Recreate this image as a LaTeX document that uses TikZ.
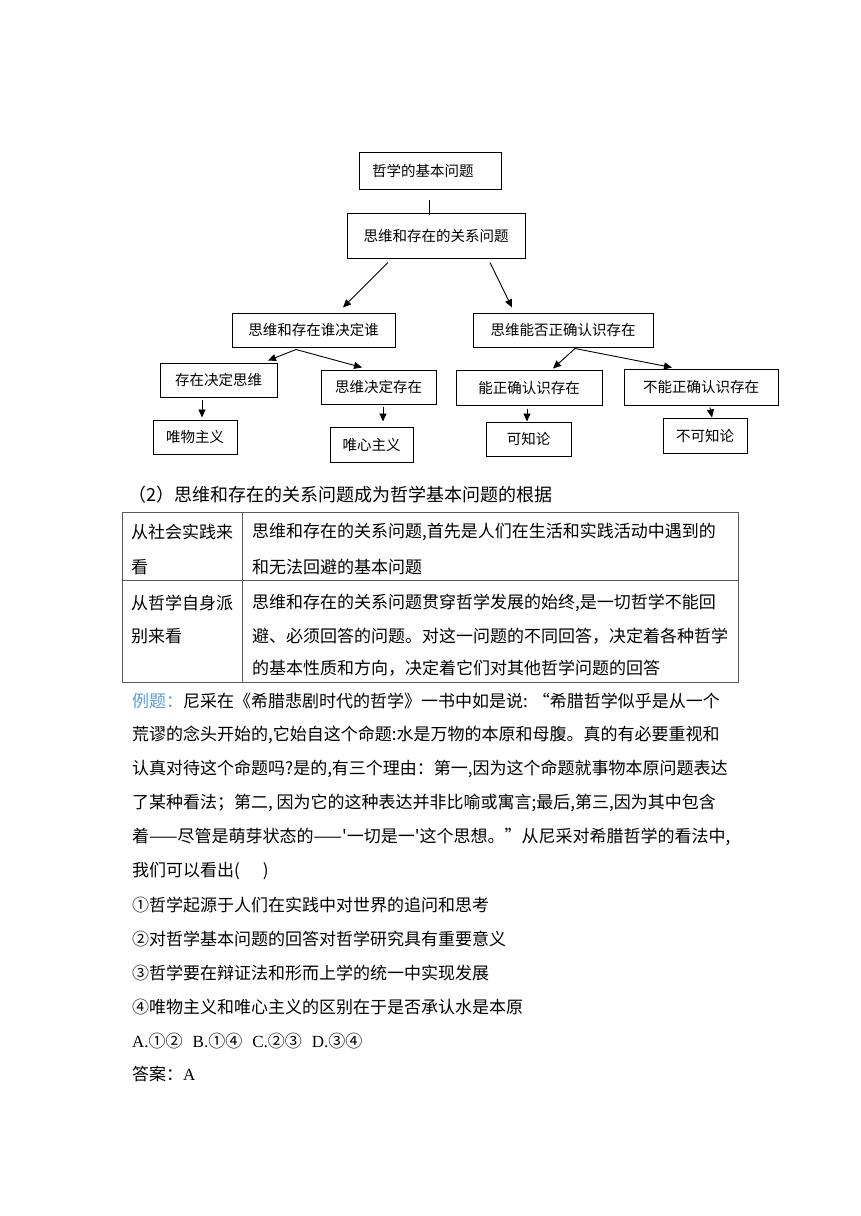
\documentclass[tikz,border=0pt]{standalone}
\usepackage{fontspec}
\usepackage{tikz}
\usetikzlibrary{arrows.meta,calc,positioning}
\newfontfamily\cjkfont{Noto Sans CJK SC}
\newfontfamily\latfont{Liberation Serif}
\definecolor{Ex_Blue}{HTML}{5B9BD5}
\definecolor{Table_Gray}{HTML}{595959}

\begin{document}
\begin{tikzpicture}[x=1pt, y=-1pt, >={Triangle[length=8pt,width=7pt]},
    qbox/.style={draw, line width=1pt, inner sep=0pt, font=\cjkfont\fontsize{14.5}{17}\selectfont},
    link/.style={line width=0.9pt},
    body/.style={anchor=west, inner sep=0pt, font=\cjkfont\fontsize{17}{20}\selectfont},
    grid/.style={draw=Table_Gray, line width=1pt}]

    \useasboundingbox (0,0) rectangle (860,1216);

    % Diagram: top
    \node[qbox, inner xsep=13pt, text width=116pt, align=left, minimum height=37pt] (jbwt) at (430,170.5) {哲学的基本问题};
    \node[qbox, minimum width=178pt, minimum height=45pt] (gxwt) at (436,235.5) {思维和存在的关系问题};
    \draw[link] ([xshift=-1pt,yshift=-10pt]jbwt.south) -- ([xshift=-7pt,yshift=-2pt]gxwt.north);

    % Diagram: left branch
    \node[qbox, minimum width=163pt, minimum height=34pt] (sjd) at (313.5,330) {思维和存在谁决定谁};
    \node[qbox, minimum width=117pt, minimum height=34pt] (czjd) at (218.5,380) {存在决定思维};
    \node[qbox, minimum width=115pt, minimum height=34pt] (swjd) at (378.5,387) {思维决定存在};
    \node[qbox, minimum width=84pt, minimum height=34pt] (wwzy) at (195,437) {唯物主义};
    \node[qbox, minimum width=83pt, minimum height=35pt] (wxzy) at (371.5,444.5) {唯心主义};
    \draw[link,->] ([xshift=-48pt,yshift=-4pt]gxwt.south) -- ([xshift=29.5pt,yshift=5pt]sjd.north);
    \draw[link,->] ([xshift=-17.5pt,yshift=-2pt]sjd.south) -- ([xshift=49.5pt,yshift=2pt]czjd.north);
    \draw[link,->] ([xshift=-17.5pt,yshift=-2pt]sjd.south) -- ([xshift=-16.5pt,yshift=2pt]swjd.north);
    \draw[link,->] ([xshift=-16.5pt,yshift=-2pt]czjd.south) -- ([xshift=7pt,yshift=2pt]wwzy.north);
    \draw[link,->] ([xshift=4.5pt,yshift=-2pt]swjd.south) -- ([xshift=11.5pt,yshift=5pt]wxzy.north);

    % Diagram: right branch
    \node[qbox, minimum width=180pt, minimum height=34pt] (nfrs) at (563,330) {思维能否正确认识存在};
    \node[qbox, minimum width=146pt, minimum height=35pt] (nrs) at (529,387.5) {能正确认识存在};
    \node[qbox, minimum width=154pt, minimum height=36pt] (bnrs) at (701,387) {不能正确认识存在};
    \node[qbox, minimum width=85pt, minimum height=34pt] (kzl) at (528.5,439) {可知论};
    \node[qbox, minimum width=84pt, minimum height=35pt] (bkzl) at (705,435.5) {不可知论};
    \draw[link,->] ([xshift=54pt,yshift=-4pt]gxwt.south) -- ([xshift=-51pt,yshift=5pt]nfrs.north);
    \draw[link,->] ([xshift=12pt,yshift=-1pt]nfrs.south) -- ([xshift=24pt,yshift=1pt]nrs.north);
    \draw[link,->] ([xshift=12pt,yshift=-1pt]nfrs.south) -- ([xshift=-29pt,yshift=1pt]bnrs.north);
    \draw[link,->] ([xshift=-2pt,yshift=-3pt]nrs.south) -- ([xshift=-1.5pt]kzl.north);
    \draw[link,->] ([xshift=9pt,yshift=-2pt]bnrs.south) -- ([xshift=7pt]bkzl.north);

    % Heading
    \node[body, font=\cjkfont\fontsize{18}{20}\selectfont] (head) at (128,495) {（2）思维和存在的关系问题成为哲学基本问题的根据};

    % Table
    \draw[grid] (122,512) rectangle (738,682);
    \draw[grid] (242,512) -- (242,682);
    \draw[grid] (122,580) -- (738,580);
    \node[body] (ra1) at (131,532) {从社会实践来};
    \node[body] (ra2) at (131,567) {看};
    \node[body] (rb1) at (131,603) {从哲学自身派};
    \node[body] (rb2) at (131,636) {别来看};
    \node[body] (sa1) at (252,532) {思维和存在的关系问题,首先是人们在生活和实践活动中遇到的};
    \node[body] (sa2) at (252,567) {和无法回避的基本问题};
    \node[body] (sb1) at (252,603) {思维和存在的关系问题贯穿哲学发展的始终,是一切哲学不能回};
    \node[body] (sb2) at (252,636) {避、必须回答的问题。对这一问题的不同回答，决定着各种哲学};
    \node[body] (sb3) at (252,668) {的基本性质和方向，决定着它们对其他哲学问题的回答};

    % Example
    \node[body] (ex1) at (132,701) {{\color{Ex_Blue}例题：}尼采在《希腊悲剧时代的哲学》一书中如是说: “希腊哲学似乎是从一个};
    \node[body] (ex2) at (132,735) {荒谬的念头开始的,它始自这个命题:水是万物的本原和母腹。真的有必要重视和};
    \node[body] (ex3) at (132,769) {认真对待这个命题吗?是的,有三个理由：第一,因为这个命题就事物本原问题表达};
    \node[body] (ex4) at (132,803) {了某种看法；第二, 因为它的这种表达并非比喻或寓言;最后,第三,因为其中包含};
    \node[body] (ex5) at (132,837) {着——尽管是萌芽状态的——'一切是一'这个思想。”从尼采对希腊哲学的看法中,};
    \node[body] (ex6) at (132,871) {我们可以看出(\hspace{23pt})};
    \node[body] (op1) at (132,905) {①哲学起源于人们在实践中对世界的追问和思考};
    \node[body] (op2) at (132,939) {②对哲学基本问题的回答对哲学研究具有重要意义};
    \node[body] (op3) at (132,973) {③哲学要在辩证法和形而上学的统一中实现发展};
    \node[body] (op4) at (132,1007) {④唯物主义和唯心主义的区别在于是否承认水是本原};
    \node[body] (abcd) at (132,1041) {{\latfont A.}①②\hspace{10pt}{\latfont B.}①④\hspace{10pt}{\latfont C.}②③\hspace{10pt}{\latfont D.}③④};
    \node[body] (ans) at (132,1074) {答案：{\latfont A}};
\end{tikzpicture}
\end{document}
